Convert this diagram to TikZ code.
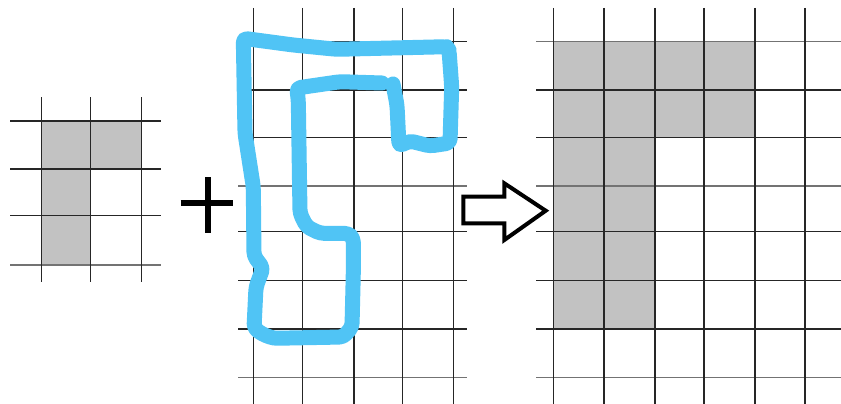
\documentclass[tikz,border=0pt]{standalone}
\begin{document}
\begin{tikzpicture}[x=1pt,y=-1pt,
  dk/.style={draw=black!85,line width=1.5pt},
  lt/.style={draw=black!55,line width=1.5pt},
  cell/.style={fill=black!24},
  blue/.style={draw={rgb,255:red,80;green,196;blue,245},line width=15pt,line cap=round,line join=round,rounded corners=4pt},
  heavy/.style={draw=black,line width=4pt,line join=miter}]
\useasboundingbox[fill=white] (0,0) rectangle (841,404);
% ---------- left grid ----------
\fill[cell] (41.7,121) rectangle (141.7,169);
\fill[cell] (41.7,169) rectangle (90.7,265);
\foreach \y in {121,169,215.7} \draw[dk] (10,\y) -- (161,\y);
\draw[lt] (10,265) -- (161,265);
\foreach \x in {41.7,90.7,141.7} \draw[dk] (\x,97) -- (\x,282);
% ---------- plus ----------
\draw[black,line width=6pt] (180.7,203.3) -- (233.3,203.3);
\draw[black,line width=6pt] (207.7,177.3) -- (207.7,232.7);
% ---------- middle grid ----------
\foreach \y in {41.7,90,137.3,231.7,280.7,329} \draw[dk] (238,\y) -- (467,\y);
\foreach \y in {186,377.3} \draw[lt] (238,\y) -- (467,\y);
\foreach \x in {253.3,302.7,354,402.7,453.3} \draw[dk] (\x,8) -- (\x,404);
% blue stroke
\draw[blue] (393,84) -- (397,105) -- (399,146) -- (410,141) -- (430,146) -- (450,143)
  -- (451.7,86.7) -- (449,50) -- (446.7,46.7) -- (336.7,49.3) -- (293.3,45) -- (243.3,38.3)
  -- (245,133.3) -- (253.3,186.7) -- (254,256) -- (263,268) -- (256,287) -- (254,328)
  -- (262,334) -- (273.3,338.3) -- (343.3,337) -- (352,327) -- (353.3,273) -- (353.3,238)
  -- (348,233.3) -- (320,233.3) -- (306.7,226.7) -- (300,213.3) -- (298.3,100) -- (296.7,88)
  -- (340,81.7) -- (382,83);
% ---------- arrow ----------
\draw[heavy] (463.3,196.7) -- (504.3,196.7) -- (504.3,183.3) -- (545.7,210.7)
  -- (504.3,240) -- (504.3,223.3) -- (463.3,223.3) -- cycle;
% ---------- right grid ----------
\fill[cell] (553.3,41.7) rectangle (755,137.3);
\fill[cell] (553.3,137.3) rectangle (655,329);
\foreach \y in {90,137.3,231.7,280.7,329} \draw[dk] (536,\y) -- (841,\y);
\foreach \y in {41.7,186,377.3} \draw[lt] (536,\y) -- (841,\y);
\foreach \x in {553.3,604,655,704,755,805} \draw[dk] (\x,8) -- (\x,404);
\end{tikzpicture}
\end{document}
